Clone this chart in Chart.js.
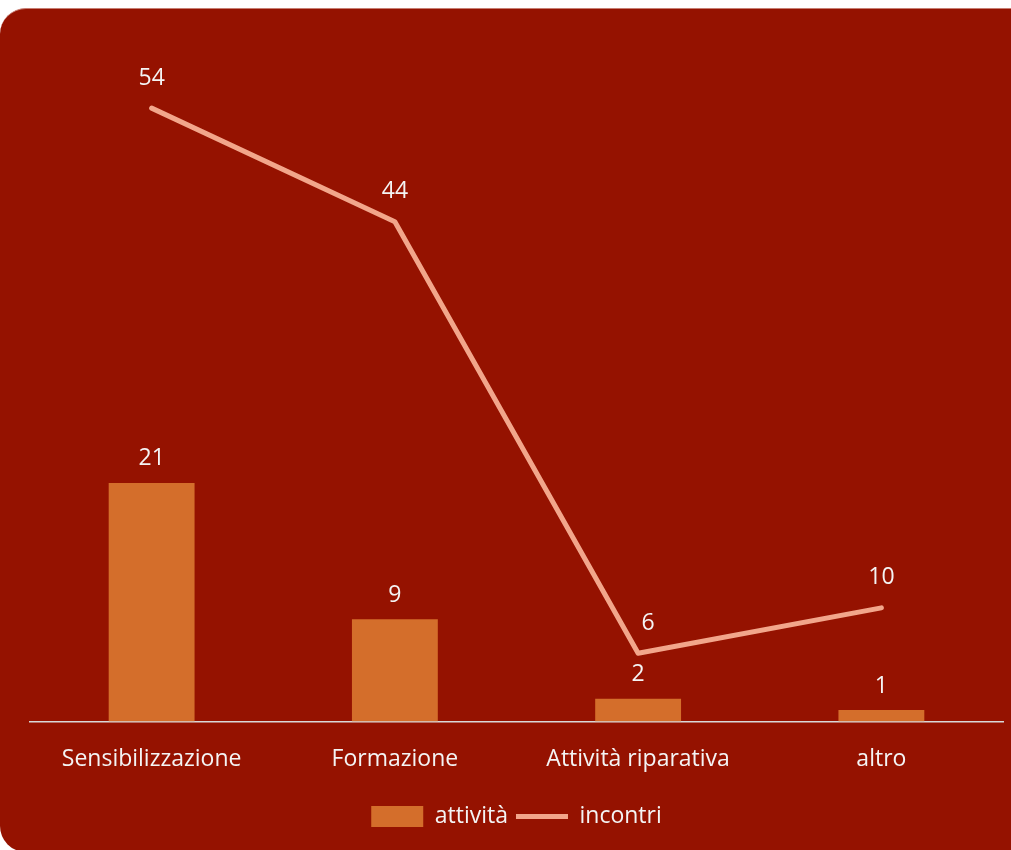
<!DOCTYPE html>
<html>
<head>
<meta charset="utf-8">
<script src="https://cdn.jsdelivr.net/npm/chart.js@4/dist/chart.umd.min.js"></script>
<style>
  html, body { margin: 0; padding: 0; background: #ffffff; overflow: hidden; }
  #wrap { position: relative; width: 1011px; height: 850px; }
  #panel {
    position: absolute; left: 0; top: 8px; width: 1040px; height: 844px;
    background: #951200; border-radius: 26px; border-top: 1px solid #c77d72;
    box-sizing: border-box;
  }
  #chart { position: absolute; left: 0; top: 0; }
</style>
</head>
<body>
<div id="wrap">
  <div id="panel"></div>
  <canvas id="chart" width="1011" height="850"></canvas>
</div>
<script>
const categories = ['Sensibilizzazione', 'Formazione', 'Attività riparativa', 'altro'];
const attivita = [21, 9, 2, 1];
const incontri = [54, 44, 6, 10];
const seriesNames = ['attività', 'incontri'];

const FONT = "'Open Sans', 'Liberation Sans', sans-serif";
const TEXT = '#f4f4f4';
const FS = 23;

// Writes each value above its bar / line point
const valueLabels = {
  id: 'valueLabels',
  afterDatasetsDraw(chart) {
    const ctx = chart.ctx;
    ctx.save();
    ctx.fillStyle = TEXT;
    ctx.font = FS + 'px ' + FONT;
    ctx.textAlign = 'center';
    ctx.textBaseline = 'middle';
    chart.data.datasets.forEach((ds, i) => {
      const meta = chart.getDatasetMeta(i);
      meta.data.forEach((el, j) => {
        const v = ds.data[j];
        if (ds.type === 'bar') {
          ctx.fillText(String(v), el.x, el.y - 24);
        } else {
          const dx = (j === 2) ? 10 : 0;
          ctx.fillText(String(v), el.x + dx, el.y - 30);
        }
      });
    });
    ctx.restore();
  }
};

new Chart(document.getElementById('chart'), {
  data: {
    labels: categories,
    datasets: [
      {
        type: 'bar',
        label: seriesNames[0],
        data: attivita,
        backgroundColor: '#d46e2b',
        borderWidth: 0,
        barPercentage: 0.353,
        categoryPercentage: 1.0,
        pointStyle: 'rect',
        order: 2
      },
      {
        type: 'line',
        label: seriesNames[1],
        data: incontri,
        borderColor: '#f2a68b',
        backgroundColor: '#f2a68b',
        borderWidth: 5,
        borderCapStyle: 'round',
        borderJoinStyle: 'round',
        pointRadius: 0,
        pointHoverRadius: 0,
        tension: 0,
        fill: false,
        pointStyle: 'line',
        order: 1
      }
    ]
  },
  options: {
    responsive: false,
    animation: false,
    devicePixelRatio: 1,
    layout: { padding: { left: 30, right: 8, top: 40, bottom: 12 } },
    plugins: {
      tooltip: { enabled: false },
      legend: {
        position: 'bottom',
        labels: {
          color: TEXT,
          font: { family: FONT, size: FS },
          usePointStyle: true,
          pointStyleWidth: 52,
          boxHeight: 21,
          padding: 8,
          sort: (a, b) => a.datasetIndex - b.datasetIndex
        }
      }
    },
    scales: {
      x: {
        offset: true,
        grid: { display: false, drawTicks: false },
        border: { display: true, color: '#d9d9d9', width: 1.5 },
        ticks: { color: TEXT, font: { family: FONT, size: FS }, padding: 24, maxRotation: 0 }
      },
      y: {
        display: false,
        min: 0,
        max: 60
      }
    }
  },
  plugins: [valueLabels]
});
</script>
</body>
</html>
